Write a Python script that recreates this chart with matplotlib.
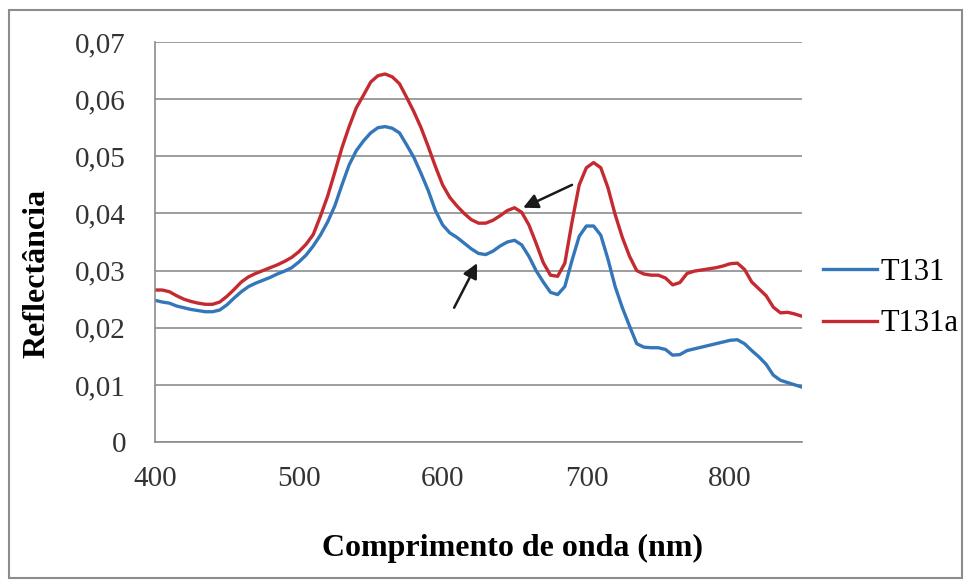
import matplotlib.pyplot as plt
from matplotlib.patches import Rectangle
from matplotlib.ticker import FuncFormatter

# wavelength grid (nm), one reading every 5 nm
wavelength = list(range(400, 855, 5))

t131 = [
    0.0248, 0.0245, 0.0243, 0.0238, 0.0235, 0.0232, 0.0230, 0.0228, 0.0228, 0.0231,
    0.0240, 0.0252, 0.0263, 0.0272, 0.0278, 0.0283, 0.0288, 0.0294, 0.0299, 0.0305,
    0.0315, 0.0327, 0.0343, 0.0362, 0.0385, 0.0413, 0.0450, 0.0485, 0.0510, 0.0527,
    0.0541, 0.0550, 0.0552, 0.0549, 0.0541, 0.0520, 0.0498, 0.0470, 0.0440, 0.0405,
    0.0380, 0.0366, 0.0358, 0.0348, 0.0338, 0.0330, 0.0328, 0.0334, 0.0343, 0.0350,
    0.0353, 0.0345, 0.0325, 0.0300, 0.0280, 0.0262, 0.0258, 0.0272, 0.0318, 0.0360,
    0.0378, 0.0378, 0.0362, 0.0320, 0.0272, 0.0235, 0.0203, 0.0172, 0.0166, 0.0165,
    0.0165, 0.0162, 0.0152, 0.0153, 0.0160, 0.0163, 0.0166, 0.0169, 0.0172, 0.0175,
    0.0178, 0.0179, 0.0172, 0.0160, 0.0149, 0.0136, 0.0117, 0.0108, 0.0104, 0.0100,
    0.0096,
]

t131a = [
    0.0266, 0.0266, 0.0263, 0.0256, 0.0250, 0.0246, 0.0243, 0.0241, 0.0241, 0.0245,
    0.0255, 0.0267, 0.0280, 0.0289, 0.0295, 0.0300, 0.0305, 0.0310, 0.0316, 0.0323,
    0.0333, 0.0346, 0.0363, 0.0395, 0.0430, 0.0472, 0.0515, 0.0552, 0.0585, 0.0607,
    0.0630, 0.0641, 0.0644, 0.0639, 0.0627, 0.0603, 0.0578, 0.0550, 0.0517, 0.0482,
    0.0450, 0.0428, 0.0413, 0.0400, 0.0389, 0.0383, 0.0383, 0.0388, 0.0396, 0.0405,
    0.0410, 0.0402, 0.0380, 0.0348, 0.0314, 0.0292, 0.0290, 0.0313, 0.0385, 0.0450,
    0.0480, 0.0489, 0.0480, 0.0445, 0.0398, 0.0358, 0.0325, 0.0300, 0.0294, 0.0292,
    0.0292, 0.0287, 0.0275, 0.0279, 0.0295, 0.0299, 0.0301, 0.0303, 0.0305, 0.0308,
    0.0312, 0.0313, 0.0302, 0.0280, 0.0268, 0.0256, 0.0236, 0.0226, 0.0227, 0.0224,
    0.0220,
]

x_ticks = [400, 500, 600, 700, 800]
y_ticks = [0, 0.01, 0.02, 0.03, 0.04, 0.05, 0.06, 0.07]

# arrows pointing at the shoulder near 650 nm: (tail, head)
arrows = [((690, 0.0450), (656, 0.0410)),
          ((608, 0.0235), (624, 0.0313))]

plt.rcParams['font.family'] = ['Liberation Serif', 'DejaVu Serif']

fig = plt.figure(figsize=(9.66, 5.81), dpi=100)
ax = fig.add_axes([0.1605, 0.2392, 0.6698, 0.6885])

ax.plot(wavelength, t131, color='#3476BA', lw=2.4, label='T131')
ax.plot(wavelength, t131a, color='#C42A30', lw=2.4, label='T131a')

for (tx, ty), (hx, hy) in arrows:
    ax.annotate('', xy=(hx, hy), xytext=(tx, ty),
                arrowprops=dict(arrowstyle='-|>', color='#1a1a1a', lw=1.8,
                                mutation_scale=22, shrinkA=0, shrinkB=0))

ax.set_xlim(400, 850)
ax.set_ylim(0, 0.07)
ax.set_xticks(x_ticks)
ax.set_yticks(y_ticks)
ax.yaxis.set_major_formatter(FuncFormatter(
    lambda v, p: '0' if v == 0 else f'{v:.2f}'.replace('.', ',')))
ax.tick_params(length=0, labelsize=21, colors='#333333')
ax.tick_params(axis='y', pad=21)
ax.tick_params(axis='x', pad=17)

ax.grid(axis='y', color='#8c8c8c', lw=1.2)
ax.set_axisbelow(True)
for side in ['top', 'right']:
    ax.spines[side].set_visible(False)
for side in ['left', 'bottom']:
    ax.spines[side].set_color('#8c8c8c')
    ax.spines[side].set_linewidth(1.2)

ax.set_xlabel('Comprimento de onda (nm)', fontsize=23, fontweight='bold', va='center')
ax.set_ylabel('Reflectância', fontsize=23, fontweight='bold', va='center')
ax.xaxis.set_label_coords(0.552, -0.265)
ax.yaxis.set_label_coords(-0.182, 0.4225)

ax.legend(loc='center left', bbox_to_anchor=(1.0325, 0.36), frameon=False,
          fontsize=22, handlelength=1.77, handletextpad=0.1, labelspacing=0.75,
          borderpad=0, borderaxespad=0)

fig.patches.append(Rectangle((9 / 966, 3 / 581), 953 / 966, 568 / 581,
                             transform=fig.transFigure, fill=False,
                             edgecolor='#8c8c8c', lw=1.5))

fig.savefig('out.png', dpi=100)
